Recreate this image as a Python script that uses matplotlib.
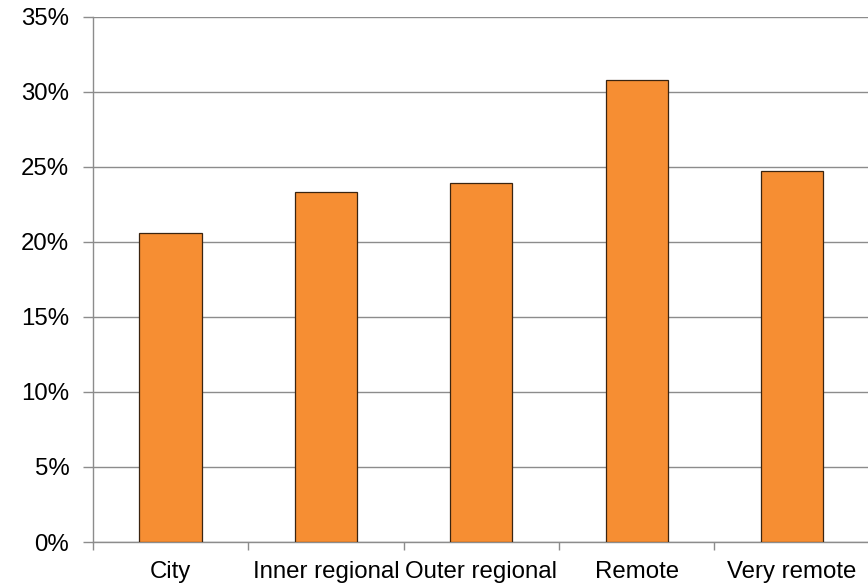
import numpy as np
import matplotlib.pyplot as plt
from matplotlib.ticker import FixedLocator, PercentFormatter

# share by remoteness area
regions = ['City', 'Inner regional', 'Outer regional', 'Remote', 'Very remote']
share = [20.6, 23.3, 23.9, 30.8, 24.7]

plt.rcParams['font.family'] = ['Liberation Sans', 'DejaVu Sans']

fig = plt.figure(figsize=(8.68, 5.85), dpi=100)
ax = fig.add_axes([0.107, 0.0735, 0.895, 0.8975])

x = np.arange(len(regions))
ax.bar(x, share, width=0.4, color='#F68E33', edgecolor='#3a2410', linewidth=0.9, zorder=3)

ax.set_xlim(-0.5, len(regions) - 0.5)
ax.set_ylim(0, 35)
ax.set_yticks(np.arange(0, 36, 5))
ax.yaxis.set_major_formatter(PercentFormatter(decimals=0))
ax.grid(axis='y', color='#8c8c8c', linewidth=1.0, zorder=0)

# category labels centred, ticks between categories
ax.set_xticks(x)
ax.set_xticklabels(regions)
ax.xaxis.set_minor_locator(FixedLocator(np.arange(-0.5, len(regions), 1.0)))
ax.tick_params(axis='x', which='major', length=0, pad=14, labelsize=17.3)
ax.tick_params(axis='x', which='minor', length=6, color='#8c8c8c', width=1)
ax.tick_params(axis='y', length=7, color='#8c8c8c', width=1, labelsize=17.3, pad=10)

for side in ['top', 'right']:
    ax.spines[side].set_visible(False)
for side in ['left', 'bottom']:
    ax.spines[side].set_color('#8c8c8c')
    ax.spines[side].set_linewidth(1.0)

fig.savefig('out.png', dpi=100)
